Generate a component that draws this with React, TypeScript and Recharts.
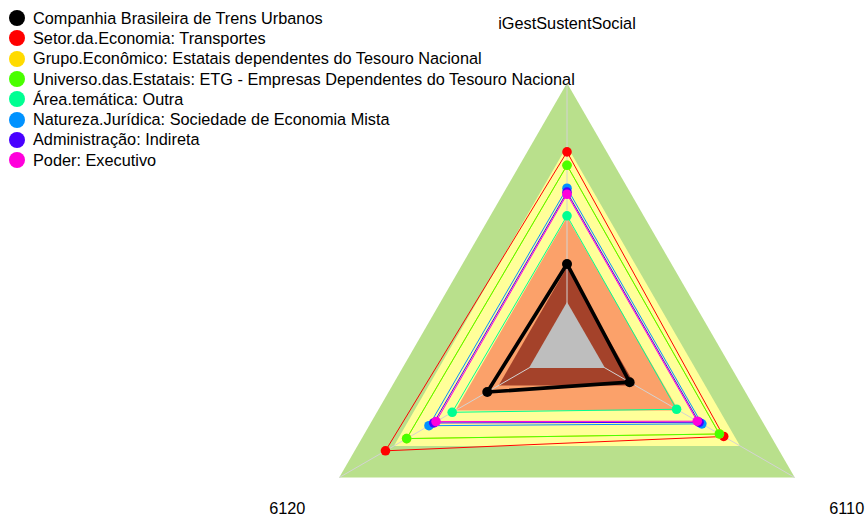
import {
  RadarChart,
  Radar,
  PolarAngleAxis,
  PolarRadiusAxis,
  Legend,
} from "recharts";

const axes: Array<string> = ["iGestSustentSocial", "6110", "6120"];

// background bands (outer to inner), as a fraction of the radius
const bandLevels: Array<number> = [1, 0.76, 0.49, 0.3, 0.167];
const bandColors: Array<string> = ["#b9e08c", "#ffff99", "#fba16a", "#a4422a", "#bebebe"];
const spokeLevel: Array<number> = [1, 1, 1];

const companhia: Array<number> = [0.312, 0.275, 0.35];
const setor: Array<number> = [0.738, 0.688, 0.797];
const grupo: Array<number> = [0.687, 0.669, 0.704];
const universo: Array<number> = [0.687, 0.669, 0.704];
const areaTematica: Array<number> = [0.495, 0.481, 0.504];
const natureza: Array<number> = [0.6, 0.592, 0.606];
const administracao: Array<number> = [0.585, 0.58, 0.585];
const poder: Array<number> = [0.577, 0.572, 0.575];

const series = [
  { key: "companhia", name: "Companhia Brasileira de Trens Urbanos", color: "#000000", values: companhia },
  { key: "setor", name: "Setor.da.Economia: Transportes", color: "#ff0000", values: setor },
  { key: "grupo", name: "Grupo.Econômico: Estatais dependentes do Tesouro Nacional", color: "#ffdb00", values: grupo },
  { key: "universo", name: "Universo.das.Estatais: ETG - Empresas Dependentes do Tesouro Nacional", color: "#49ff00", values: universo },
  { key: "area", name: "Área.temática: Outra", color: "#00ff92", values: areaTematica },
  { key: "natureza", name: "Natureza.Jurídica: Sociedade de Economia Mista", color: "#0092ff", values: natureza },
  { key: "administracao", name: "Administração: Indireta", color: "#4900ff", values: administracao },
  { key: "poder", name: "Poder: Executivo", color: "#ff00db", values: poder },
];

const data = axes.map((axis, i) => {
  const row: any = { axis, spoke: spokeLevel[i] };
  bandLevels.forEach((lvl, b) => {
    row["band" + b] = lvl;
  });
  series.forEach((s) => {
    row[s.key] = s.values[i];
  });
  return row;
});

const CX = 567;
const CY = 346;
const R = 263;
const LABEL_R = 323;
const FONT = '"Liberation Sans", Arial, sans-serif';

const AxisTick = (props: any) => {
  const angle = props.payload.coordinate;
  const rad = (-angle * Math.PI) / 180;
  const x = CX + LABEL_R * Math.cos(rad);
  const y = CY + LABEL_R * Math.sin(rad);
  return (
    <text
      x={x}
      y={y}
      textAnchor="middle"
      dominantBaseline="central"
      fontSize={16.3}
      fontFamily={FONT}
      fill="#000"
    >
      {props.payload.value}
    </text>
  );
};

// light grey lines from the centre out to each axis end
const Spokes = (props: any) => {
  const pts = props.points || [];
  return (
    <g>
      {pts.map((p: any, i: number) => (
        <line
          key={i}
          x1={p.cx ?? CX}
          y1={p.cy ?? CY}
          x2={p.x}
          y2={p.y}
          stroke="#d3d3d3"
          strokeWidth={1}
        />
      ))}
    </g>
  );
};

const makeDot = (color: string, r: number) => (p: any) => (
  <circle key={p.key ?? `${p.cx}-${p.cy}`} cx={p.cx} cy={p.cy} r={r} fill={color} />
);

const bandRadar = (b: number) => (
  <Radar
    key={"band" + b}
    dataKey={"band" + b}
    fill={bandColors[b]}
    fillOpacity={1}
    stroke="none"
    dot={false}
    legendType="none"
    isAnimationActive={false}
  />
);

const LegendBox = () => (
  <div style={{ fontFamily: FONT, fontSize: 16.3, color: "#000" }}>
    {series.map((s) => (
      <div
        key={s.key}
        style={{ display: "flex", alignItems: "center", height: 20.3, whiteSpace: "nowrap" }}
      >
        <span
          style={{
            display: "inline-block",
            width: 16,
            height: 16,
            borderRadius: "50%",
            background: s.color,
            marginRight: 8,
          }}
        />
        {s.name}
      </div>
    ))}
  </div>
);

export default function App() {
  return (
    <div style={{ position: "absolute", left: 0, top: 0, background: "#fff" }}>
      <RadarChart
        width={867}
        height={519}
        data={data}
        cx={CX}
        cy={CY}
        outerRadius={R}
        margin={{ top: 0, right: 0, bottom: 0, left: 0 }}
      >
        <PolarRadiusAxis domain={[0, 1]} tick={false} axisLine={false} />
        <PolarAngleAxis dataKey="axis" tick={<AxisTick />} axisLine={false} tickLine={false} />
        {[0, 1, 2, 3].map((b) => bandRadar(b))}
        <Radar
          dataKey="spoke"
          shape={<Spokes />}
          dot={false}
          legendType="none"
          isAnimationActive={false}
        />
        {bandRadar(4)}
        {series.map((s) => (
          <Radar
            key={s.key}
            dataKey={s.key}
            name={s.name}
            stroke={s.color}
            strokeWidth={s.key === "companhia" ? 3.6 : 1}
            fill="none"
            fillOpacity={0}
            dot={makeDot(s.color, s.key === "companhia" ? 5 : 4.8)}
            isAnimationActive={false}
          />
        ))}
        <Legend
          layout="vertical"
          align="left"
          verticalAlign="top"
          content={<LegendBox />}
          wrapperStyle={{ position: "absolute", left: 9, top: 8, width: "auto" }}
        />
      </RadarChart>
    </div>
  );
}
